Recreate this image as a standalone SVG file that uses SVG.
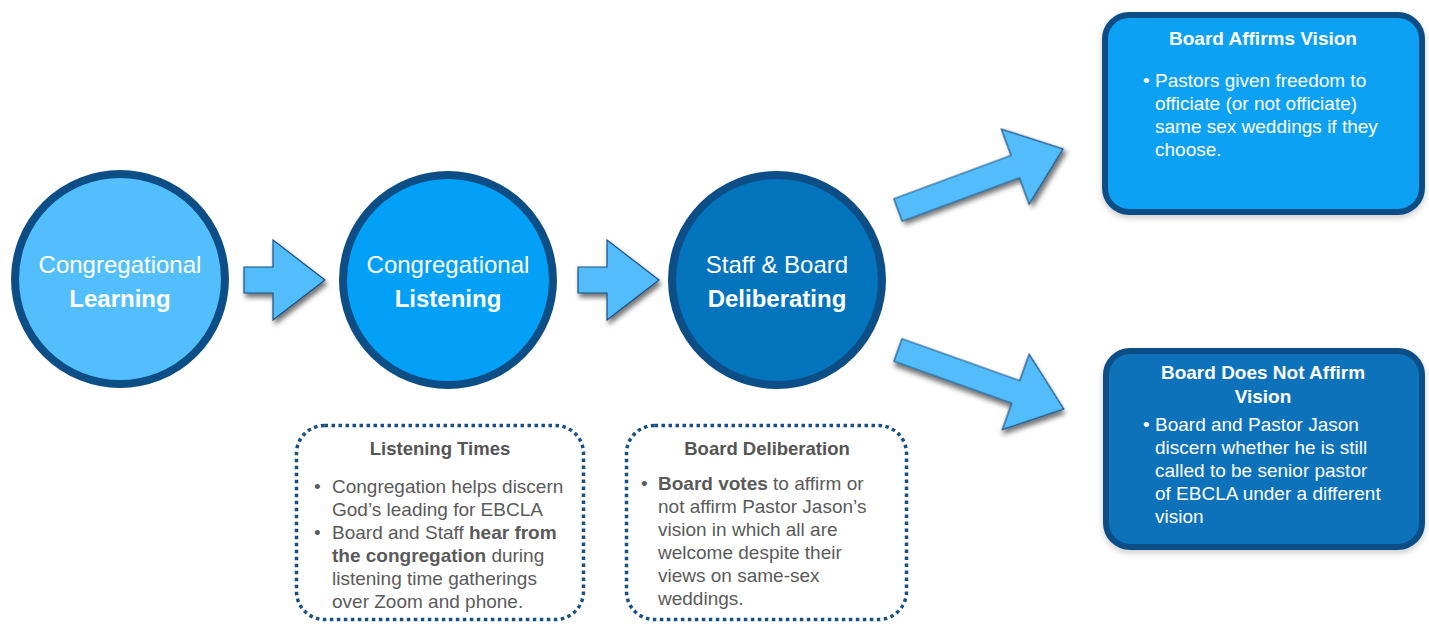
<svg xmlns="http://www.w3.org/2000/svg" width="1429" height="624" viewBox="0 0 1429 624">
<defs>
<filter id="ash" x="-20%" y="-30%" width="150%" height="170%">
<feDropShadow dx="2" dy="4" stdDeviation="2.5" flood-color="#000" flood-opacity="0.55"/>
</filter>
<filter id="bsh" x="-10%" y="-10%" width="120%" height="125%">
<feDropShadow dx="0" dy="3" stdDeviation="3" flood-color="#000" flood-opacity="0.2"/>
</filter>
<path id="darr" d="M0,-12 L125,-12 L125,-40 L176,0 L125,40 L125,12 L0,12 Z"/>
</defs>
<style>
text{font-family:"Liberation Sans",Arial,Helvetica,sans-serif}
.circ{stroke:#0c4e85;stroke-width:8}
.ct{fill:#fff;font-size:24px;text-anchor:middle}
.b{font-weight:bold}
.arr{fill:#52bcfa;stroke:#1b4f80;stroke-width:1.2;stroke-linejoin:miter;filter:url(#ash)}
.box{stroke:#0c4e85;stroke-width:6;filter:url(#bsh)}
.bt{fill:#fff;font-size:19px}
.btt{fill:#fff;font-size:19px;font-weight:bold;text-anchor:middle}
.dot{fill:#fff;stroke:#1b4f80;stroke-width:3.5;stroke-dasharray:3.5 3.5}
.gt{fill:#5a5a5a;font-size:19px}
.gtt{fill:#555;font-size:18.5px;font-weight:bold;text-anchor:middle}
</style>
<rect width="1429" height="624" fill="#fff"/>

<g id="connectors">
<path class="arr" d="M244,267 L273,267 L273,240 L325,280 L273,320 L273,293 L244,293 Z"/>
<path class="arr" d="M578,267 L607,267 L607,240 L659,280 L607,320 L607,293 L578,293 Z"/>
<use href="#darr" class="arr" transform="translate(898,210) rotate(-20.3)"/>
<use href="#darr" class="arr" transform="translate(898,350) rotate(19.6)"/>
</g>

<g id="learning">
<circle class="circ" cx="120" cy="279" r="105" fill="#52bffc"/>
<text class="ct" x="120" y="273">Congregational</text>
<text class="ct b" x="120" y="307">Learning</text>
</g>

<g id="listening">
<circle class="circ" cx="448" cy="280" r="105" fill="#02a0f6"/>
<text class="ct" x="448" y="273">Congregational</text>
<text class="ct b" x="448" y="307">Listening</text>
</g>

<g id="deliberating">
<circle class="circ" cx="777" cy="280" r="105" fill="#0474bc"/>
<text class="ct" x="777" y="273">Staff &amp; Board</text>
<text class="ct b" x="777" y="307">Deliberating</text>
</g>

<g id="affirms">
<rect class="box" x="1105" y="15" width="317" height="197" rx="24" fill="#0ba1f3"/>
<text class="btt" x="1263" y="45">Board Affirms Vision</text>
<text class="bt" x="1143" y="87">•</text>
<text class="bt" x="1155" y="87">Pastors given freedom to</text>
<text class="bt" x="1155" y="110">officiate (or not officiate)</text>
<text class="bt" x="1155" y="133">same sex weddings if they</text>
<text class="bt" x="1155" y="156">choose.</text>
</g>

<g id="notaffirm">
<rect class="box" x="1106" y="351" width="316" height="196" rx="24" fill="#0b72ba"/>
<text class="btt" x="1263" y="379">Board Does Not Affirm</text>
<text class="btt" x="1263" y="403">Vision</text>
<text class="bt" x="1143" y="431">•</text>
<text class="bt" x="1155" y="431">Board and Pastor Jason</text>
<text class="bt" x="1155" y="454">discern whether he is still</text>
<text class="bt" x="1155" y="477">called to be senior pastor</text>
<text class="bt" x="1155" y="500">of EBCLA under a different</text>
<text class="bt" x="1155" y="523">vision</text>
</g>

<g id="listening-times">
<rect class="dot" x="296.5" y="425.5" width="287" height="194" rx="28"/>
<text class="gtt" x="440" y="455">Listening Times</text>
<text class="gt" x="314" y="493">•</text>
<text class="gt" x="332" y="493">Congregation helps discern</text>
<text class="gt" x="332" y="516">God’s leading for EBCLA</text>
<text class="gt" x="314" y="539">•</text>
<text class="gt" x="332" y="539">Board and Staff <tspan class="b">hear from</tspan></text>
<text class="gt" x="332" y="562"><tspan class="b">the congregation</tspan> during</text>
<text class="gt" x="332" y="585">listening time gatherings</text>
<text class="gt" x="332" y="608">over Zoom and phone.</text>
</g>

<g id="board-deliberation">
<rect class="dot" x="626.5" y="425.5" width="280" height="194" rx="28"/>
<text class="gtt" x="767" y="455">Board Deliberation</text>
<text class="gt" x="641" y="490">•</text>
<text class="gt" x="658" y="490"><tspan class="b">Board votes</tspan> to affirm or</text>
<text class="gt" x="658" y="513">not affirm Pastor Jason’s</text>
<text class="gt" x="658" y="536">vision in which all are</text>
<text class="gt" x="658" y="559">welcome despite their</text>
<text class="gt" x="658" y="582">views on same-sex</text>
<text class="gt" x="658" y="605">weddings.</text>
</g>
</svg>
